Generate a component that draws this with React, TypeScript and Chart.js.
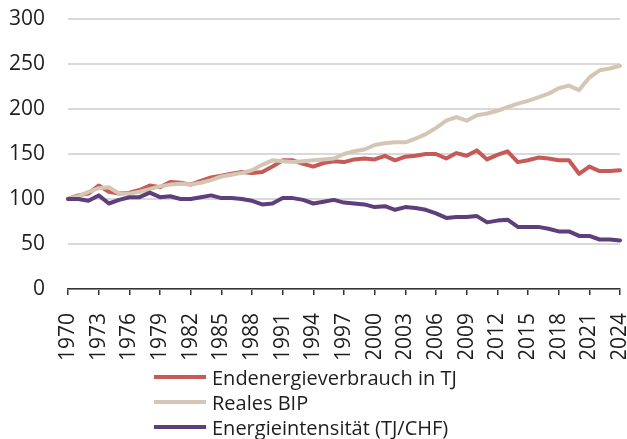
import React, { useEffect, useRef } from "react";
import { Chart, registerables } from "chart.js";

Chart.register(...registerables);

const years: string[] = [];
for (let y = 1970; y <= 2024; y++) years.push(String(y));

const endenergie = [
  100, 104, 106, 115, 108, 106, 107, 110, 115, 113,
  119, 118, 116, 120, 124, 126, 128, 130, 129, 130,
  136, 143, 143, 139, 136, 140, 142, 141, 144, 145,
  144, 148, 143, 147, 148, 150, 150, 145, 151, 148,
  154, 144, 149, 153, 141, 143, 146, 145, 143, 143,
  128, 136, 131, 131, 132,
];

const bip = [
  100, 103, 108, 112, 113, 106, 106, 108, 111, 114,
  116, 117, 116, 118, 121, 125, 127, 129, 132, 138,
  143, 142, 141, 142, 143, 144, 145, 150, 153, 155,
  160, 162, 163, 163, 167, 172, 179, 187, 191, 187,
  193, 195, 198, 202, 206, 209, 213, 217, 223, 226,
  221, 235, 243, 245, 248,
];

const intensitaet = [
  100, 100, 98, 104, 95, 99, 102, 102, 107, 102,
  103, 100, 100, 102, 104, 101, 101, 100, 98, 94,
  95, 101, 101, 99, 95, 97, 99, 96, 95, 94,
  91, 92, 88, 91, 90, 88, 84, 79, 80, 80,
  81, 74, 76, 77, 69, 69, 69, 67, 64, 64,
  59, 59, 55, 55, 54,
];

const seriesNames = [
  "Endenergieverbrauch in TJ",
  "Reales BIP",
  "Energieintensität (TJ/CHF)",
];
const seriesColors = ["#c55a57", "#d5c6b3", "#5e3f7c"];

const FONT = "'Open Sans', 'Noto Sans', sans-serif";
const TEXT = "#1e1e1e";

export default function App() {
  const ref = useRef<HTMLCanvasElement | null>(null);

  useEffect(() => {
    if (!ref.current) return;
    const chart = new Chart(ref.current, {
      type: "line",
      data: {
        labels: years,
        datasets: [
          { label: seriesNames[0], data: endenergie, borderColor: seriesColors[0], backgroundColor: seriesColors[0], order: 2 },
          { label: seriesNames[1], data: bip, borderColor: seriesColors[1], backgroundColor: seriesColors[1], order: 1 },
          { label: seriesNames[2], data: intensitaet, borderColor: seriesColors[2], backgroundColor: seriesColors[2], order: 0 },
        ].map((d) => ({
          ...d,
          borderWidth: 4,
          pointRadius: 0,
          tension: 0,
          fill: false,
          borderJoinStyle: "round" as const,
          borderCapStyle: "round" as const,
        })),
      },
      options: {
        animation: false,
        responsive: false,
        layout: { padding: { top: 19, right: 7, bottom: 80, left: 0 } },
        plugins: {
          legend: { display: false },
          tooltip: { enabled: false },
        },
        scales: {
          x: {
            grid: {
              drawOnChartArea: false,
              drawTicks: true,
              tickLength: 6,
              color: "#333",
              lineWidth: 1.5,
            },
            border: { display: true, color: "#333", width: 1.5 },
            ticks: {
              autoSkip: false,
              maxRotation: 90,
              minRotation: 90,
              padding: 18,
              color: TEXT,
              font: { family: FONT, size: 21 },
              callback: (_v: any, i: number) => (i % 3 === 0 ? years[i] : null),
            },
            afterFit: (axis: any) => {
              axis.height = 70;
              axis.paddingLeft = 0;
              axis.paddingRight = 0;
            },
          },
          y: {
            min: 0,
            max: 300,
            ticks: {
              stepSize: 50,
              padding: 23,
              color: TEXT,
              font: { family: FONT, size: 21 },
            },
            grid: { drawTicks: false, color: "#d9d9d9", lineWidth: 2 },
            border: { display: false },
            afterFit: (axis: any) => {
              axis.width = 68;
              axis.paddingTop = 0;
              axis.paddingBottom = 0;
            },
          },
        },
      },
    });
    return () => chart.destroy();
  }, []);

  const legendTop = [377, 402, 427];

  return (
    <div style={{ position: "fixed", left: 0, top: 0, width: 627, height: 439, background: "#fff" }}>
      <canvas ref={ref} width={627} height={439} style={{ width: 627, height: 439, display: "block" }} />
      {seriesNames.map((name, i) => (
        <div
          key={name}
          style={{
            position: "absolute",
            left: 154,
            top: legendTop[i] - 13,
            height: 26,
            display: "flex",
            alignItems: "center",
            fontFamily: FONT,
            fontSize: 20,
            color: TEXT,
            whiteSpace: "nowrap",
          }}
        >
          <span style={{ display: "inline-block", width: 52, height: 4, background: seriesColors[i], marginRight: 6 }} />
          <span>{name}</span>
        </div>
      ))}
    </div>
  );
}
